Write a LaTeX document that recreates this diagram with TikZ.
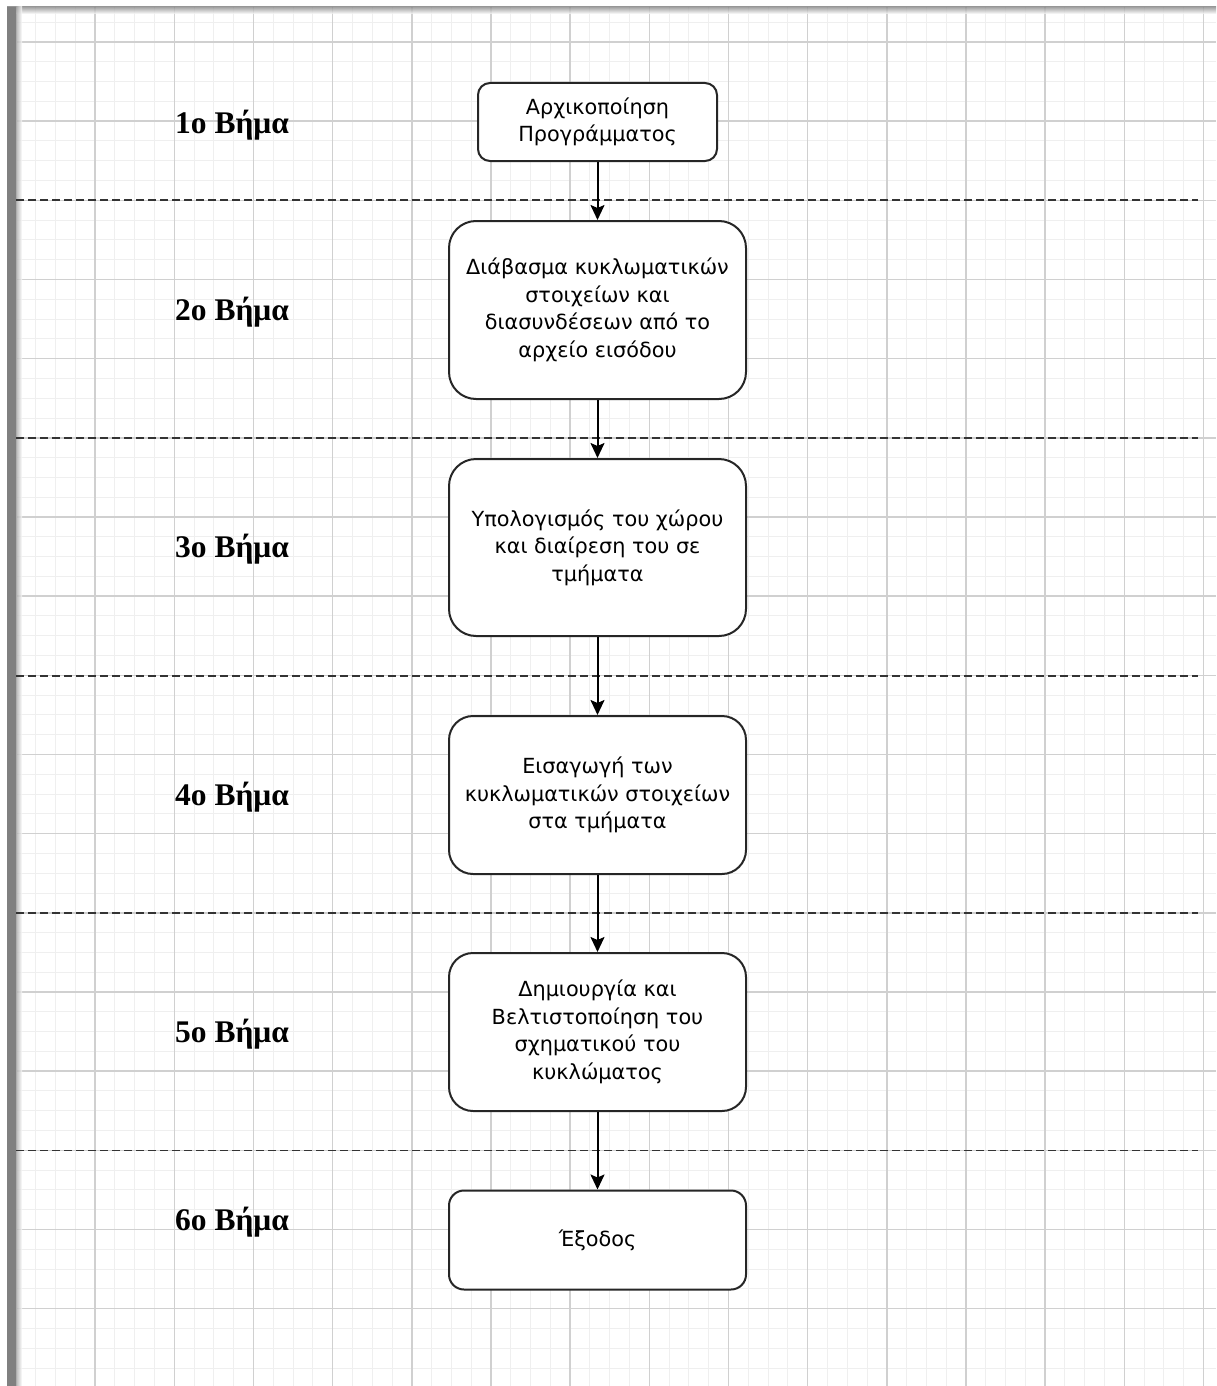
\documentclass[tikz,border=0pt]{standalone}
\usepackage{fontspec}
\setmainfont{Liberation Serif}
\newfontfamily\boxfontfam{DejaVu Sans}
\usetikzlibrary{arrows.meta}
\definecolor{minorgrid}{HTML}{EFEFEF}
\definecolor{majorgrid}{HTML}{D0D0D0}
\definecolor{sepline}{HTML}{333333}
\definecolor{barcol}{HTML}{808080}
\tikzset{
  minorline/.style={draw=minorgrid, line width=1pt},
  majorline/.style={draw=majorgrid, line width=1.4pt},
  sepdash/.style={draw=sepline, line width=1.8pt, dash pattern=on 8pt off 4pt},
  stepbox/.style={draw=black!85, line width=2pt, fill=white, align=center,
     inner sep=0pt, font=\boxfontfam\fontsize{20.8}{27.5}\selectfont},
  steplabel/.style={anchor=west, inner sep=0pt, font=\bfseries\fontsize{31.5}{34}\selectfont},
  flow/.style={draw=black, line width=2pt, -{Stealth[length=15pt,width=14pt,inset=3pt]}}
}
\begin{document}
\begin{tikzpicture}[x=1pt,y=-1pt]
\useasboundingbox (0,0) rectangle (1216,1386);
\fill[white] (0,0) rectangle (1216,1386);
% grid minor
\foreach \k in {0,...,61} {
  \draw[minorline] ({16+19.7917*\k},7) -- ({16+19.7917*\k},1386);
}
\foreach \k in {-1,...,68} {
  \draw[minorline] (16,{42+19.7917*\k}) -- (1216,{42+19.7917*\k});
}
% grid major
\foreach \k in {0,...,15} {
  \draw[majorline] ({16+79.1667*\k},7) -- ({16+79.1667*\k},1386);
}
\foreach \k in {0,...,17} {
  \draw[majorline] (16,{42+79.1667*\k}) -- (1216,{42+79.1667*\k});
}
% top shadow
\shade[top color=black!45, bottom color=white, opacity=0.8] (7,7) rectangle (1216,14);
% left bar
\fill[barcol] (7,7) rectangle (16,1386);
\shade[left color=barcol!70, right color=white, opacity=0.8] (16,7) rectangle (22,1386);
% separators
\foreach \yy in {200.3,438,675.6,913.1,1150.4} {
  \draw[sepdash] (16,\yy) -- (1198,\yy);
}
% boxes
\node[stepbox, minimum width=239pt, minimum height=78pt, rounded corners=12pt] (b1) at (597.5,122) {Αρχικοποίηση\\Προγράμματος};
\node[stepbox, minimum width=297pt, minimum height=178pt, rounded corners=27pt] (b2) at (597.5,310) {Διάβασμα κυκλωματικών\\στοιχείων και\\διασυνδέσεων από το\\αρχείο εισόδου};
\node[stepbox, minimum width=297pt, minimum height=177pt, rounded corners=27pt] (b3) at (597.5,547.5) {Υπολογισμός του χώρου\\και διαίρεση του σε\\τμήματα};
\node[stepbox, minimum width=297pt, minimum height=158pt, rounded corners=24pt] (b4) at (597.5,795) {Εισαγωγή των\\κυκλωματικών στοιχείων\\στα τμήματα};
\node[stepbox, minimum width=297pt, minimum height=158pt, rounded corners=24pt] (b5) at (597.5,1032) {Δημιουργία και\\Βελτιστοποίηση του\\σχηματικού του\\κυκλώματος};
\node[stepbox, minimum width=297pt, minimum height=99pt, rounded corners=15pt] (b6) at (597.5,1240) {Έξοδος};
% arrows
\draw[flow] (b1.south) -- (b2.north);
\draw[flow] (b2.south) -- (b3.north);
\draw[flow] (b3.south) -- (b4.north);
\draw[flow] (b4.south) -- (b5.north);
\draw[flow] (b5.south) -- (b6.north);
% labels
\node[steplabel] (l1) at (175,125) {1ο Βήμα};
\node[steplabel] (l2) at (175,312) {2ο Βήμα};
\node[steplabel] (l3) at (175,549) {3ο Βήμα};
\node[steplabel] (l4) at (175,797) {4ο Βήμα};
\node[steplabel] (l5) at (175,1034) {5ο Βήμα};
\node[steplabel] (l6) at (175,1222) {6ο Βήμα};
\end{tikzpicture}
\end{document}
